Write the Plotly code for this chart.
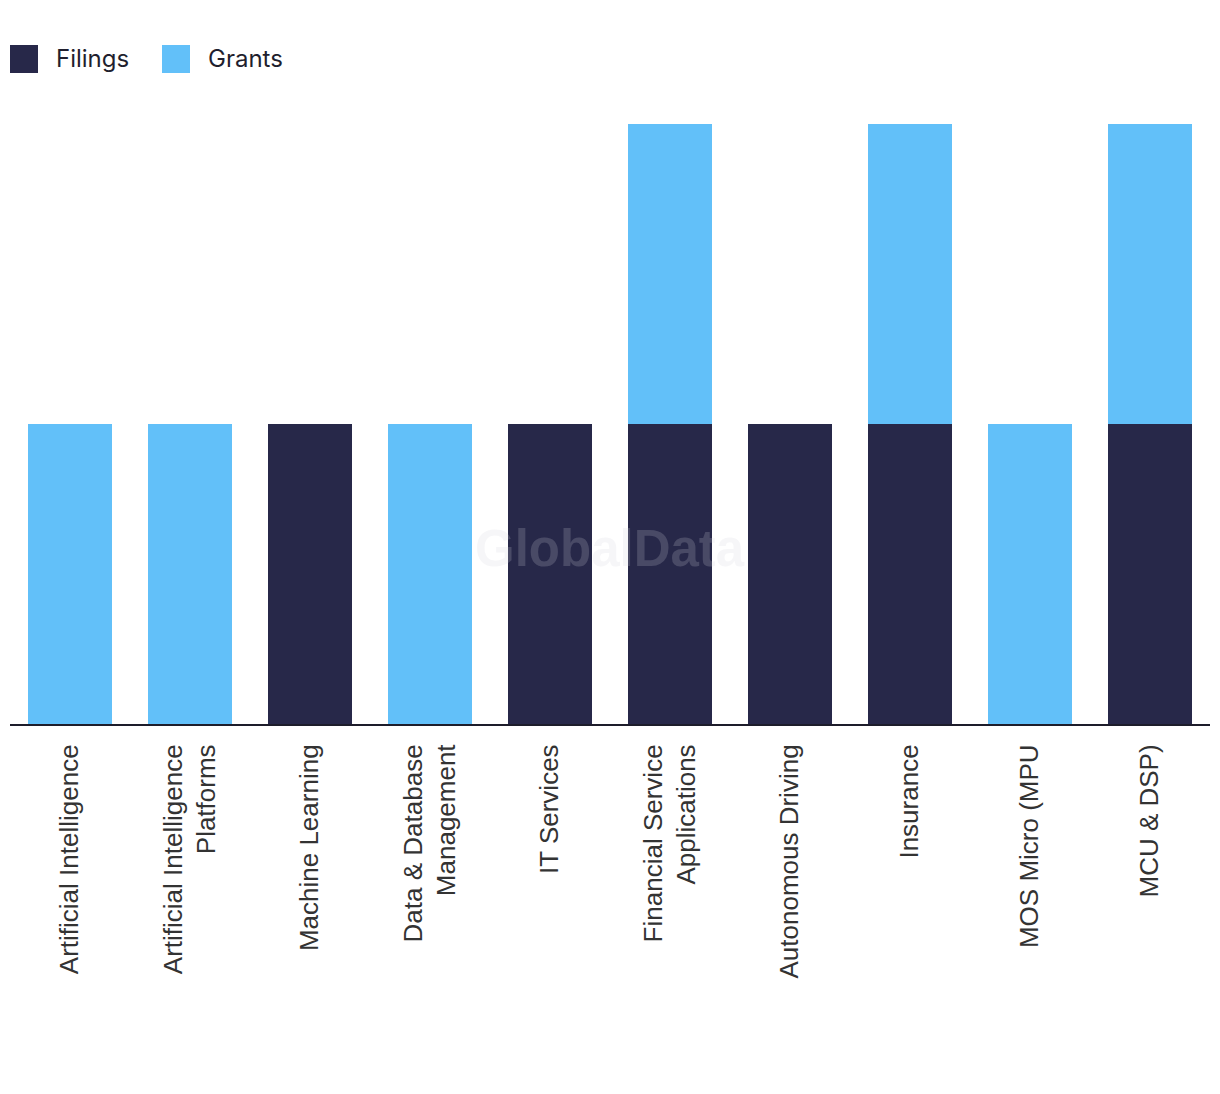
import plotly.graph_objects as go

categories = [
    "Artificial Intelligence",
    "Artificial Intelligence<br>Platforms",
    "Machine Learning",
    "Data & Database<br>Management",
    "IT Services",
    "Financial Service<br>Applications",
    "Autonomous Driving",
    "Insurance",
    "MOS Micro (MPU",
    "MCU & DSP)",
]
series_names = ["Filings", "Grants"]
filings = [0, 0, 1, 0, 1, 1, 1, 1, 0, 1]
grants = [1, 1, 0, 1, 0, 1, 0, 1, 1, 1]

DARK = "#272849"
LIGHT = "#62c0f9"
colors = [DARK, LIGHT]

fig = go.Figure()
for name, vals, col in zip(series_names, [filings, grants], colors):
    fig.add_trace(go.Bar(name=name, x=categories, y=vals, marker_color=col,
                         marker_line_width=0, showlegend=False))

# plot area in on-screen pixel terms (page has an 8px body offset)
W, H, L, T = 1200.0, 600.0, 10.0, 124.0
def px_x(p):
    return (p - L) / W
def px_y(p):
    return (T + H - p) / H

shapes = []
annotations = []
leg_x = [10, 162]
for name, col, x0 in zip(series_names, colors, leg_x):
    shapes.append(dict(type="rect", xref="paper", yref="paper",
                       x0=px_x(x0), x1=px_x(x0 + 28), y0=px_y(73), y1=px_y(45),
                       fillcolor=col, line=dict(width=0)))
    annotations.append(dict(text=name, xref="paper", yref="paper",
                            x=px_x(x0 + 44), y=px_y(59), xanchor="left", yanchor="middle",
                            showarrow=False,
                            font=dict(family="Inter, Lato, sans-serif", size=24, color="#1f1f2e")))

annotations.append(dict(text="<b>GlobalData</b>", x=px_x(610), y=px_y(548),
                        xref="paper", yref="paper", showarrow=False,
                        xanchor="center", yanchor="middle",
                        font=dict(family="Liberation Sans, Arial, sans-serif", size=51,
                                  color="rgba(210,210,218,0.2)")))

fig.update_layout(
    barmode="stack",
    bargap=0.3,
    width=1220,
    height=1094,
    margin=dict(l=2, r=18, t=116, b=378, autoexpand=False),
    plot_bgcolor="white",
    paper_bgcolor="white",
    showlegend=False,
    xaxis=dict(
        automargin=False,
        showline=True, linecolor="#1d1d2b", linewidth=2,
        showgrid=False, zeroline=False,
        tickangle=-90,
        ticks="outside", ticklen=8, tickcolor="rgba(0,0,0,0)",
        tickfont=dict(family="Liberation Sans, Arial, sans-serif", size=26, color="#333333"),
    ),
    yaxis=dict(
        automargin=False,
        range=[0, 2], showgrid=False, zeroline=False, showticklabels=False,
        showline=False,
    ),
    shapes=shapes,
    annotations=annotations,
)

fig.write_html("out.html")
